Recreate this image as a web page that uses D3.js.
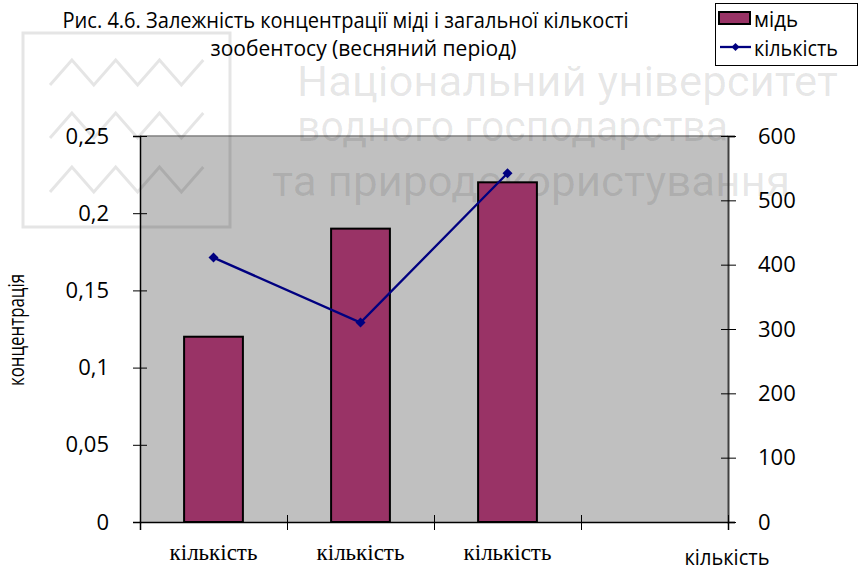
<!DOCTYPE html>
<html><head><meta charset="utf-8">
<script src="https://cdn.jsdelivr.net/npm/d3@7"></script>
<style>body{margin:0;background:#fff}svg{display:block}</style>
</head><body>
<script>
// ---- data ----
const categories = ["кількість", "кількість", "кількість", ""];
const copper = [0.12, 0.19, 0.22];
const count = [411, 310, 542];
const leftTicks = [0, 0.05, 0.1, 0.15, 0.2, 0.25];
const rightTicks = [0, 100, 200, 300, 400, 500, 600];
const titleLines = ["Рис. 4.6. Залежність концентрації міді і загальної кількості", "зообентосу (весняний період)"];
const seriesNames = ["мідь", "кількість"];
const yTitle = "концентрація";
const xTitle = "кількість";
const watermark = ["Національний університет", "водного господарства", "та природокористування"];

// ---- layout ----
const W = 868, H = 571;
const L = 140, R = 728, T = 136, B = 522;
const sans = "'Open Sans', 'Noto Sans', sans-serif";
const serif = "'Liberation Serif', 'Times New Roman', serif";

const svg = d3.select("body").append("svg").attr("width", W).attr("height", H);

// fit a text into a max width (compress only, never stretch)
function fit(sel, maxW) {
  sel.each(function () {
    const n = this.getComputedTextLength();
    if (n > maxW) d3.select(this).attr("textLength", maxW).attr("lengthAdjust", "spacingAndGlyphs");
  });
  return sel;
}

const x = d3.scaleBand().domain(d3.range(categories.length)).range([L, R]).padding(0);
const xl = d3.scaleLinear().domain([0, categories.length]).range([L, R]);
const yL = d3.scaleLinear().domain([0, 0.25]).range([B, T]);
const yR = d3.scaleLinear().domain([0, 600]).range([B, T]);
const fmtComma = v => String(v).replace(".", ",");

// plot background
svg.append("rect").attr("x", L).attr("y", T).attr("width", R - L).attr("height", B - T)
  .attr("fill", "#c0c0c0");
svg.append("line").attr("x1", L).attr("x2", R).attr("y1", T).attr("y2", T)
  .attr("stroke", "#808080").attr("stroke-width", 1.5);

// watermark (behind marks)
const wm = svg.append("g").attr("fill", "none").attr("stroke", "rgba(0,0,0,0.1)").attr("stroke-width", 3);
wm.append("rect").attr("x", 23).attr("y", 33).attr("width", 207).attr("height", 194);
[60, 113, 167].forEach(yy => {
  const pts = [];
  for (let i = 0; i <= 7; i++) pts.push([50 + i * 21.9, i % 2 ? yy : yy + 25]);
  wm.append("path").attr("d", d3.line()(pts)).attr("stroke-linejoin", "miter");
});
const wmPos = [[297, 96, 541], [297, 141, 431], [272, 196, 518]];
watermark.forEach((t, i) => {
  svg.append("text").attr("x", wmPos[i][0]).attr("y", wmPos[i][1])
    .attr("textLength", wmPos[i][2]).attr("lengthAdjust", "spacingAndGlyphs")
    .attr("font-family", "Roboto, sans-serif").attr("font-size", 42)
    .attr("fill", "rgba(0,0,0,0.1)").text(t);
});

// bars
const bw = x.bandwidth() * 0.4;
svg.append("g").selectAll("rect").data(copper).join("rect")
  .attr("x", (d, i) => x(i) + x.bandwidth() / 2 - bw / 2)
  .attr("y", d => yL(d))
  .attr("width", bw)
  .attr("height", d => yL(0) - yL(d))
  .attr("fill", "#993366").attr("stroke", "#000").attr("stroke-width", 2);

// line
const lineGen = d3.line().x((d, i) => x(i) + x.bandwidth() / 2).y(d => yR(d));
svg.append("path").datum(count).attr("d", lineGen)
  .attr("fill", "none").attr("stroke", "#000080").attr("stroke-width", 2.3);
const diamond = "M0,-5L5,0L0,5L-5,0Z";
svg.append("g").selectAll("path").data(count).join("path")
  .attr("d", diamond)
  .attr("transform", (d, i) => `translate(${x(i) + x.bandwidth() / 2},${yR(d)})`)
  .attr("fill", "#000080");

// left axis
const gL = svg.append("g").attr("transform", `translate(${L},0)`)
  .call(d3.axisLeft(yL).tickValues(leftTicks).tickFormat(fmtComma).tickSizeOuter(0).tickSize(7).tickPadding(24));
gL.select(".domain").attr("stroke", "#000").attr("stroke-width", 1.5);
gL.selectAll(".tick line").attr("x1", 7).attr("x2", -7).attr("stroke", "#000");
gL.selectAll(".tick text").attr("font-family", sans).attr("font-size", 22).attr("fill", "#000");

// right axis
const gR = svg.append("g").attr("transform", `translate(${R},0)`)
  .call(d3.axisRight(yR).tickValues(rightTicks).tickSizeOuter(0).tickSize(7).tickPadding(23));
gR.select(".domain").attr("stroke", "#404040").attr("stroke-width", 2);
gR.selectAll(".tick line").attr("x1", -7).attr("x2", 8).attr("stroke", "#000");
gR.selectAll(".tick text").attr("font-family", sans).attr("font-size", 22).attr("fill", "#000");

// bottom axis (ticks at category boundaries)
const gB = svg.append("g").attr("transform", `translate(0,${B})`)
  .call(d3.axisBottom(xl).tickValues(d3.range(categories.length + 1)).tickFormat("").tickSizeOuter(0).tickSize(8));
gB.select(".domain").attr("stroke", "#000").attr("stroke-width", 1.5);
gB.selectAll(".tick line").attr("y1", -7).attr("y2", 8).attr("stroke", "#000");

// category labels
fit(svg.append("g").selectAll("text").data(categories).join("text")
  .attr("x", (d, i) => x(i) + x.bandwidth() / 2).attr("y", 560)
  .attr("text-anchor", "middle").attr("font-family", serif).attr("font-size", 23)
  .attr("fill", "#000").text(d => d), 91);

// x title
fit(svg.append("text").attr("x", 727).attr("y", 565).attr("text-anchor", "middle")
  .attr("font-family", sans).attr("font-size", 21).attr("fill", "#000").text(xTitle), 85);

// y title
fit(svg.append("text").attr("transform", "translate(24,330) rotate(-90)").attr("text-anchor", "middle")
  .attr("font-family", sans).attr("font-size", 21).attr("fill", "#000").text(yTitle), 112);

// title
const tPos = [[345.5, 28, 566], [363.5, 56, 372]];
titleLines.forEach((t, i) => {
  fit(svg.append("text").attr("x", tPos[i][0]).attr("y", tPos[i][1]).attr("text-anchor", "middle")
    .attr("font-family", sans).attr("font-size", 21).attr("fill", "#000").text(t), tPos[i][2]);
});

// legend
const lg = svg.append("g");
lg.append("rect").attr("x", 715.5).attr("y", 3.5).attr("width", 142).attr("height", 62)
  .attr("fill", "#fff").attr("stroke", "#000").attr("stroke-width", 1);
lg.append("rect").attr("x", 719).attr("y", 12).attr("width", 31).attr("height", 12)
  .attr("fill", "#993366").attr("stroke", "#000").attr("stroke-width", 2);
lg.append("line").attr("x1", 720).attr("x2", 751).attr("y1", 47).attr("y2", 47)
  .attr("stroke", "#000080").attr("stroke-width", 2.3);
lg.append("path").attr("d", diamond).attr("transform", "translate(735.5,47) scale(0.8)").attr("fill", "#000080");
const lgLen = [44, 84];
seriesNames.forEach((n, i) => {
  fit(lg.append("text").attr("x", 754).attr("y", i ? 56 : 27)
    .attr("font-family", sans).attr("font-size", 21).attr("fill", "#000").text(n), lgLen[i]);
});
</script>
</body></html>
